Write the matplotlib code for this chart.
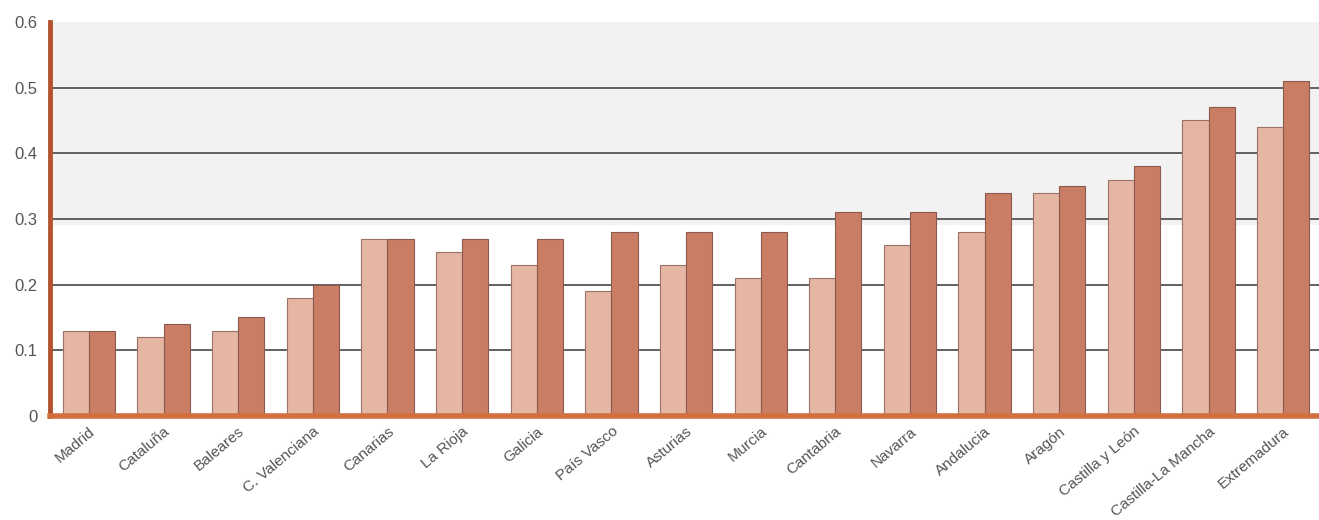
import matplotlib
matplotlib.use("Agg")
import matplotlib.pyplot as plt
import numpy as np

categories = ["Madrid", "Cataluña", "Baleares", "C. Valenciana", "Canarias", "La Rioja",
              "Galicia", "País Vasco", "Asturias", "Murcia", "Cantabria", "Navarra",
              "Andalucia", "Aragón", "Castilla y León", "Castilla-La Mancha", "Extremadura"]
series_a = [0.13, 0.12, 0.13, 0.18, 0.27, 0.25, 0.23, 0.19, 0.23, 0.21, 0.21, 0.26,
            0.28, 0.34, 0.36, 0.45, 0.44]
series_b = [0.13, 0.14, 0.15, 0.20, 0.27, 0.27, 0.27, 0.28, 0.28, 0.28, 0.31, 0.31,
            0.34, 0.35, 0.38, 0.47, 0.51]
yticks = [0, 0.1, 0.2, 0.3, 0.4, 0.5, 0.6]
ytick_labels = ["0", "0.1", "0.2", "0.3", "0.4", "0.5", "0.6"]

plt.rcParams['font.family'] = ['Liberation Sans', 'DejaVu Sans']

fig = plt.figure(figsize=(13.19, 5.2), dpi=100)
ax = fig.add_axes([0.038, 0.2, 0.962, 0.758])

x = np.arange(len(categories))
w = 0.35
ax.axhspan(0.29, 0.6, color="#f2f2f2", zorder=0, linewidth=0)
ax.bar(x - w / 2, series_a, width=w, color="#e5b6a4", edgecolor="#9a7068", linewidth=0.8, zorder=3)
ax.bar(x + w / 2, series_b, width=w, color="#ca7d65", edgecolor="#8a5a4c", linewidth=0.8, zorder=3)

ax.set_xlim(-0.52, len(categories) - 1 + 0.48)
ax.set_ylim(0, 0.6)
ax.set_yticks(yticks)
ax.set_yticklabels(ytick_labels)
for yv in yticks[1:-1]:
    ax.axhline(yv, color="#555555", linewidth=1.3, zorder=1)

ax.set_xticks(x)
ax.set_xticklabels(categories, rotation=40, ha="right", rotation_mode="anchor",
                   fontsize=11, color="#555555")
ax.tick_params(axis="both", length=0)
ax.tick_params(axis="y", labelsize=12, labelcolor="#555555", pad=9)
ax.tick_params(axis="x", pad=6)

for s in ["top", "right"]:
    ax.spines[s].set_visible(False)
ax.spines["left"].set_color("#b5532e")
ax.spines["left"].set_linewidth(3.5)
ax.spines["bottom"].set_color("#d2703d")
ax.spines["bottom"].set_linewidth(4)
ax.spines["bottom"].set_zorder(4)

fig.savefig("out.png", dpi=100)
